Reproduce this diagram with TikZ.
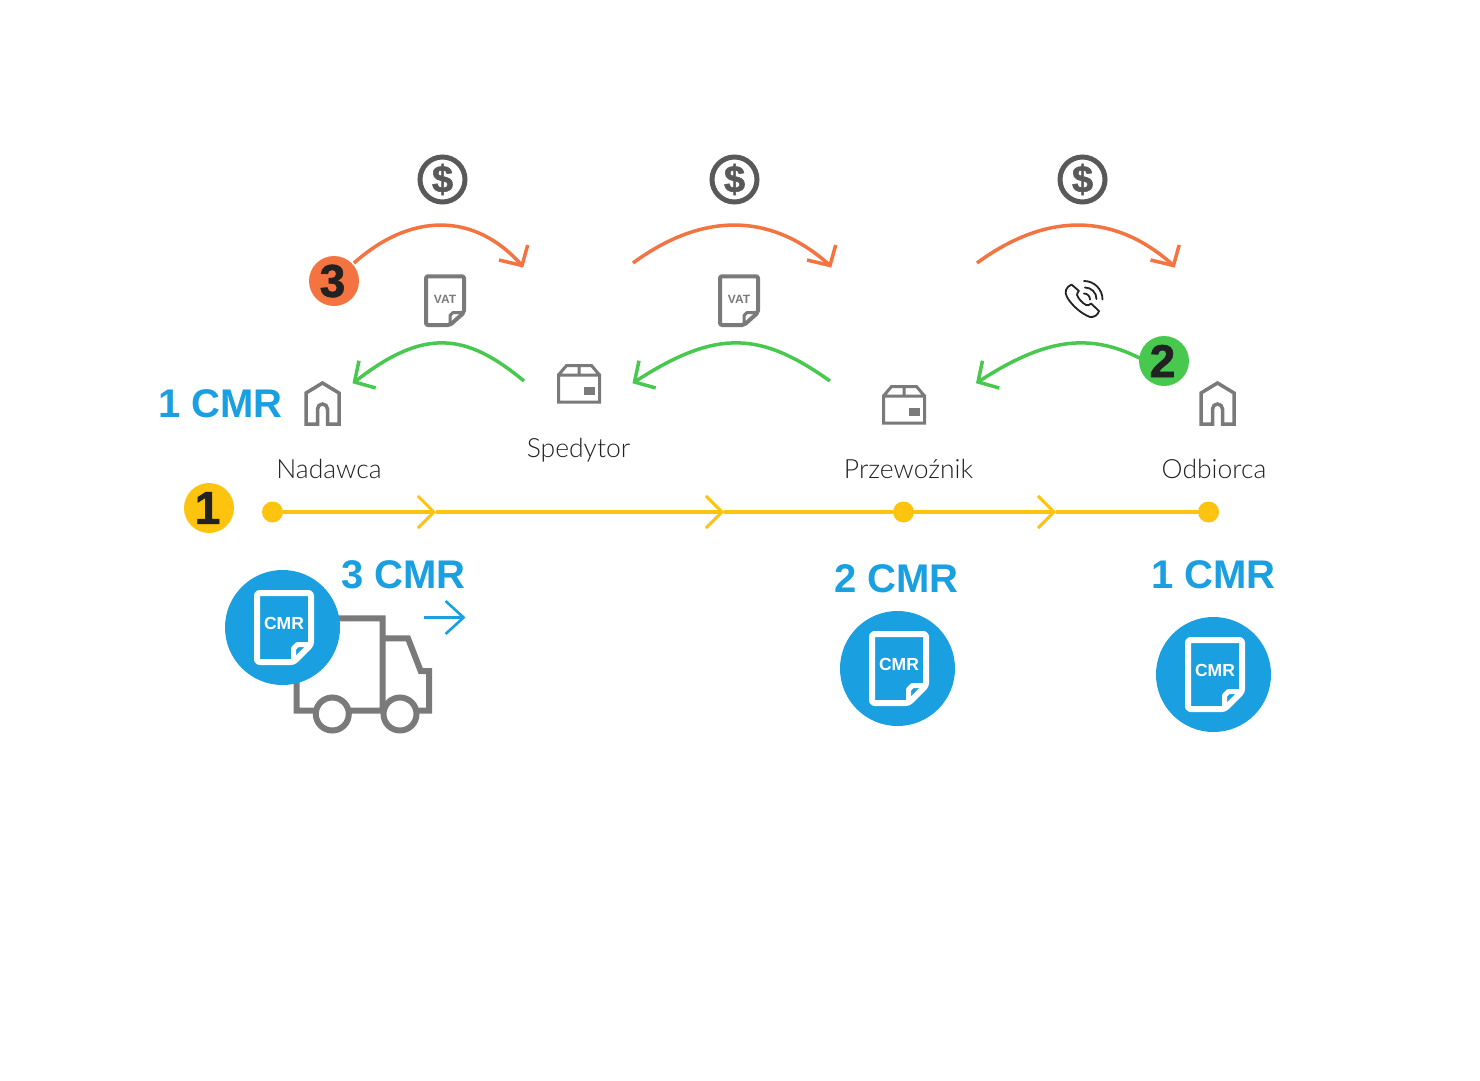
\documentclass[tikz,border=0pt]{standalone}
\usepackage{fontspec}
\setmainfont[UprightFont={* Light}]{Lato}
\newfontfamily\boldfam{Liberation Sans}
\newfontfamily\heavyfam[BoldFeatures={FakeBold=1.5}]{Liberation Sans}
\usetikzlibrary{arrows.meta,calc}
\definecolor{cblue}{HTML}{1A9FE0}
\definecolor{cgray}{HTML}{7A7A7A}
\definecolor{cdark}{HTML}{595959}
\definecolor{cyell}{HTML}{FCC30F}
\definecolor{corange}{HTML}{F37440}
\definecolor{cgreen}{HTML}{48C84F}
\definecolor{ctext}{HTML}{222222}
\newcommand{\orangearc}[2]{%
  \draw[draw=corange,line width=3.5pt] (#1) .. controls ($(#1)+(#2,-50)$) and ($(#1 end)+(-#2+8,-54.5)$) .. (#1 end);
  \draw[draw=corange,line width=3.5pt,line join=miter] ($(#1 end)+(-23,-5.5)$) -- (#1 end) -- ($(#1 end)+(5.7,-20.5)$);}
\newcommand{\greenarc}[3]{%
  \draw[draw=cgreen,line width=3.5pt] (#1) .. controls ($(#1)+(-#2,-48)$) and ($(#1 end)+(#3,-55)$) .. (#1 end);
  \draw[draw=cgreen,line width=3.5pt,line join=miter] ($(#1 end)+(21.2,6)$) -- (#1 end) -- ($(#1 end)+(4.5,-21.3)$);}
\tikzset{
  x=1pt,y=-1pt,
  yline/.style={draw=cyell,line width=4pt},
  ychev/.style={yline,-{Straight Barb[length=16pt,width=32pt,line width=3pt,line cap=butt]}},
  ydot/.style={circle,fill=cyell,inner sep=0pt,minimum size=21pt},
  badge/.style={circle,inner sep=0pt,minimum size=50pt,text=ctext,font={\heavyfam\bfseries\fontsize{46}{46}\selectfont}},
  cmrcount/.style={anchor=base,text=cblue,font={\boldfam\bfseries\fontsize{40}{46}\selectfont}},
  who/.style={anchor=base,text=ctext,font={\fontsize{26.5}{30}\selectfont}},
  coin/.style={circle,draw=cdark,line width=5pt,inner sep=0pt,minimum size=45pt,text=cdark,font={\heavyfam\bfseries\fontsize{38}{38}\selectfont}},
  bluedisc/.style={circle,fill=cblue,inner sep=0pt,minimum size=115pt},
  icon/.style={draw=cgray,line width=3.5pt,line join=miter},
  vatdoc/.pic={
    \draw[draw=cgray,line width=4pt,line join=round,rounded corners=2pt]
      (-19,-24.25) -- (19,-24.25) -- (19,12) -- (5,24.5) -- (-19,24.5) -- cycle;
    \draw[draw=cgray,line width=3pt,line join=round]
      (5,24.5) -- (5,15) -- (8,12) -- (19,12);
    \node[text=cgray,font={\boldfam\bfseries\fontsize{12}{12}\selectfont}] (-t) at (0,-1.5) {VAT};
  },
  cmrdoc/.pic={
    \draw[draw=white,line width=6pt,line join=round,rounded corners=2.5pt]
      (-25.5,-34.5) -- (28.5,-34.5) -- (28.5,17) -- (11,34.5) -- (-25.5,34.5) -- cycle;
    \draw[draw=white,line width=5pt,line join=round]
      (11,34.5) -- (11,21) -- (15,17) -- (28.5,17);
    \node[text=white,font={\boldfam\bfseries\fontsize{17.5}{18}\selectfont}] (-t) at (1.5,-4.5) {CMR};
  },
  house/.pic={
    \draw[icon] (-16.5,41) -- (-16.5,10) -- (0,0) -- (16.5,10) -- (16.5,41) -- (5,41) -- (5,26)
      arc[start angle=0,end angle=-180,radius=5] -- (-5,41) -- cycle;
  },
  parcel/.pic={
    \draw[draw=cgray,line width=3pt,line join=miter]
      (0,11) rectangle (41,38)
      (0,11) -- (8,1.5) -- (33,1.5) -- (41,11)
      (20.5,1.5) -- (20.5,11);
    \fill[cgray] (25,23) rectangle (36.5,31);
  },
}
\begin{document}
\begin{tikzpicture}
\useasboundingbox[fill=white] (0,0) rectangle (1480,1081);
% anchors for arcs
\coordinate (o1) at (354,263); \coordinate (o1 end) at (522,265.5);
\coordinate (o2) at (633,263); \coordinate (o2 end) at (830,265.5);
\coordinate (o3) at (977,263); \coordinate (o3 end) at (1173.5,265.5);
\coordinate (g1) at (524,381); \coordinate (g1 end) at (354.5,382);
\coordinate (g2) at (830,381); \coordinate (g2 end) at (634.5,382);
\coordinate (g3) at (1177,381); \coordinate (g3 end) at (978,382);
% arcs
\orangearc{o1}{56}
\orangearc{o2}{68}
\orangearc{o3}{68}
\greenarc{g1}{58}{70}
\greenarc{g2}{68}{84}
\greenarc{g3}{68}{84}
% coins
\node[coin] (coin1) at (442.5,179.5) {\$};
\node[coin] (coin2) at (734.5,179.5) {\$};
\node[coin] (coin3) at (1082.5,179.5) {\$};
% badges
\node[badge,fill=corange] (b3) at (334,281) {\hspace*{-3pt}3};
\node[badge,fill=cgreen] (b2) at (1164,361) {\hspace*{-3pt}2};
\node[badge,fill=cyell] (b1) at (209,508) {\hspace*{-3pt}1};
% VAT docs
\pic (vat1) at (445,300.5) {vatdoc};
\pic (vat2) at (739,300.5) {vatdoc};
% phone
\begin{scope}[draw=ctext,line width=1.8pt,line join=round,line cap=round]
\draw (1071.5,284.5) .. controls (1066,287) and (1064,292) .. (1067,297)
  .. controls (1072,306) and (1082,314) .. (1090,317)
  .. controls (1094,317.5) and (1098,315) .. (1099,311)
  -- (1091,303.5) .. controls (1089,305) and (1088,306) .. (1086,305)
  .. controls (1082,303) and (1078,298) .. (1077,295)
  .. controls (1077,293) and (1078,292) .. (1079,291) -- cycle;
\draw (1084,281) arc[start angle=-90,end angle=0,radius=18.5];
\draw (1085,287.5) arc[start angle=-90,end angle=0,radius=11.5];
\draw (1084,293.5) arc[start angle=-90,end angle=0,radius=6];
\end{scope}
% houses and parcels
\pic (h1) at (322.5,383) {house};
\pic (h2) at (1217.5,383) {house};
\pic (p1) at (558.5,364) {parcel};
\pic (p2) at (883.5,385) {parcel};
% texts
\node[cmrcount] (c1) at (220.5,417) {1 CMR};
\node[cmrcount] (c3) at (403.5,588) {3 CMR};
\node[cmrcount] (c2) at (896.5,592) {2 CMR};
\node[cmrcount] (c4) at (1213.5,588) {1 CMR};
\node[who] (n1) at (329,478) {Nadawca};
\node[who] (n2) at (578.5,457) {Spedytor};
\node[who] (n3) at (908.5,478) {Przewoźnik};
\node[who] (n4) at (1214,478) {Odbiorca};
% timeline
\node[ydot] (d1) at (272.5,512) {};
\node[ydot] (d2) at (903.5,512) {};
\node[ydot] (d3) at (1208.5,512) {};
\coordinate (t1) at (436,512);
\coordinate (t2) at (724,512);
\coordinate (t3) at (1056,512);
\draw[ychev] (d1) -- (t1);
\draw[ychev] (t1) -- (t2);
\draw[yline] (t2) -- (d2);
\draw[ychev] (d2) -- (t3);
\draw[yline] (t3) -- (d3);
% truck
\draw[draw=cgray,line width=6pt,line join=miter]
  (296.7,618.3) rectangle (382.7,710.7)
  (382.7,638.3) -- (408,638.3) -- (420.7,671) -- (429,671) -- (429,710.7) -- (382.7,710.7);
\draw[draw=cgray,fill=white,line width=6pt] (332.3,714) circle[radius=16.5];
\draw[draw=cgray,fill=white,line width=6pt] (400,714) circle[radius=16.5];
\coordinate (ba) at (424,617.5);
\coordinate (bb) at (465.5,617.5);
\draw[draw=cblue,line width=2.6pt,-{Straight Barb[length=18pt,width=33pt,line cap=butt]}] (ba) -- (bb);
% CMR discs
\node[bluedisc] (m1) at (282.5,627.5) {};
\pic (mc1) at (282.5,627.5) {cmrdoc};
\node[bluedisc] (m2) at (897.5,668.5) {};
\pic (mc2) at (897.5,668.5) {cmrdoc};
\node[bluedisc] (m3) at (1213.5,674.5) {};
\pic (mc3) at (1213.5,674.5) {cmrdoc};
\end{tikzpicture}
\end{document}
